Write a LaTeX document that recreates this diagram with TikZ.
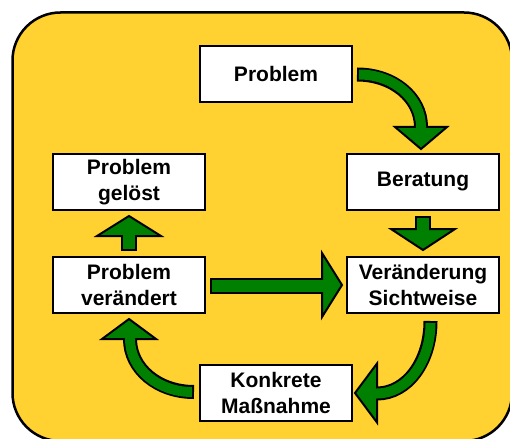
\documentclass[tikz,border=0pt]{standalone}
\usepackage{fontspec}
\setmainfont{Liberation Sans}
\usetikzlibrary{calc}
\definecolor{bgyellow}{RGB}{255,210,50}
\definecolor{arrowgreen}{RGB}{0,128,0}
\tikzset{
  stepbox/.style={draw=black, line width=2pt, fill=white, minimum width=152pt, minimum height=56pt, inner sep=0pt, align=center, font=\fontsize{21}{25.5}\selectfont\bfseries},
  shaft/.style={draw=arrowgreen, line width=12pt, shorten <=2pt, preaction={draw=black, line width=16pt, shorten <=0pt, shorten >=4pt}},
  bentshaft/.style={draw=arrowgreen, line width=10pt, shorten <=2pt, preaction={draw=black, line width=14pt, shorten <=0pt, shorten >=4pt}},
  arrowhead/.style={fill=arrowgreen, draw=black, line width=2pt}
}
\begin{document}
\begin{tikzpicture}
[x=1pt, y=-1pt]
\useasboundingbox (0,0) rectangle (510,438);
\clip (0,0) rectangle (510,438);
\draw [line width=2.5pt, fill=bgyellow, rounded corners=48pt] (12.5,12.5) rectangle (512,441);
% boxes
\node [stepbox] (prob) at (276,74) {Problem};
\node [stepbox] (ber) at (423,182) {Beratung};
\node [stepbox] (geloest) at (129,182) {Problem\\gelöst};
\node [stepbox] (verand) at (129,285) {Problem\\verändert};
\node [stepbox] (sicht) at (423,285) {Veränderung\\Sichtweise};
\node [stepbox] (mass) at (276,393) {Konkrete\\Maßnahme};
% Problem -> Beratung
\filldraw [arrowhead] ($(ber.north)+(-2,-4)$) -- ++(-26,-22) -- ++(52,0) -- cycle;
\draw [bentshaft] ($(prob.east)+(4,0.5)$) .. controls +(36,0) and +(0,-29.5) .. ($(ber.north)+(-2,-26)$) -- ++(0,4);
% Beratung -> Sichtweise
\filldraw [arrowhead] ($(sicht.north)+(0,-6)$) -- ++(-32,-21) -- ++(64,0) -- cycle;
\draw [shaft] ($(ber.south)+(0,5)$) -- ($(sicht.north)+(0,-23)$);
% Problem veraendert -> Problem geloest
\filldraw [arrowhead] ($(geloest.south)+(0,5)$) -- ++(-32,20) -- ++(64,0) -- cycle;
\draw [shaft] ($(verand.north)+(0,-5)$) -- ($(geloest.south)+(0,21)$);
% Problem veraendert -> Sichtweise
\filldraw [arrowhead] ($(sicht.west)+(-4,0)$) -- ++(-20,-32) -- ++(0,64) -- cycle;
\draw [shaft] ($(verand.east)+(4,0.5)$) -- ($(sicht.west)+(-20,0.5)$);
% Sichtweise -> Massnahme
\filldraw [arrowhead] ($(mass.east)+(2,0)$) -- ++(22,-29.5) -- ++(0,59) -- cycle;
\draw [bentshaft] ($(sicht.south)+(7.5,7)$) .. controls +(0,40.6) and +(30.1,0) .. ($(mass.east)+(24,0.5)$) -- ++(-4,0);
% Massnahme -> Problem veraendert
\filldraw [arrowhead] ($(verand.south)+(0,5)$) -- ++(-27,20) -- ++(54,0) -- cycle;
\draw [bentshaft] ($(mass.west)+(-5,-1)$) .. controls +(-35.9,0) and +(0,29.8) .. ($(verand.south)+(1,25)$) -- ++(0,-4);
\end{tikzpicture}
\end{document}
